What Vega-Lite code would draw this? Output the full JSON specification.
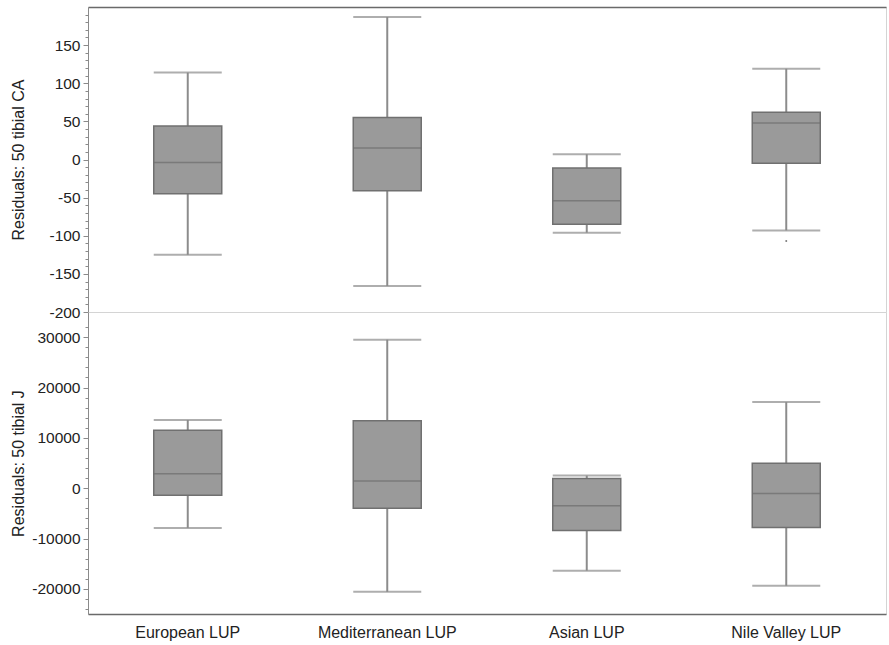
{
  "$schema": "https://vega.github.io/schema/vega-lite/v6.json",
  "background": "white",
  "padding": {"left": 10, "top": 6, "right": 2, "bottom": 2},
  "bounds": "flush",
  "spacing": 0,
  "config": {
    "view": {"stroke": "#d4d4d4", "strokeWidth": 1},
    "font": "Liberation Sans",
    "axis": {"labelFont": "Liberation Sans", "titleFont": "Liberation Sans", "labelFontSize": 15.5, "titleFontSize": 16, "titleFontWeight": "normal", "labelColor": "#222222", "titleColor": "#222222", "domainColor": "#8a8a8a", "tickColor": "#8a8a8a", "grid": false, "labelOverlap": false, "minExtent": 0}
  },
  "datasets": {
    "ca": [
      {"group": "European LUP", "wlo": -125, "q1": -45, "med": -4, "q3": 44, "whi": 114},
      {"group": "Mediterranean LUP", "wlo": -166, "q1": -41, "med": 15, "q3": 55, "whi": 187},
      {"group": "Asian LUP", "wlo": -96, "q1": -85, "med": -54, "q3": -11, "whi": 7},
      {"group": "Nile Valley LUP", "wlo": -93, "q1": -5, "med": 48, "q3": 62, "whi": 119}
    ],
    "ca_out": [
      {"group": "Nile Valley LUP", "value": -107}
    ],
    "j": [
      {"group": "European LUP", "wlo": -7900, "q1": -1400, "med": 2850, "q3": 11500, "whi": 13550},
      {"group": "Mediterranean LUP", "wlo": -20600, "q1": -4000, "med": 1400, "q3": 13400, "whi": 29500},
      {"group": "Asian LUP", "wlo": -16400, "q1": -8400, "med": -3500, "q3": 1900, "whi": 2500},
      {"group": "Nile Valley LUP", "wlo": -19400, "q1": -7800, "med": -1050, "q3": 4950, "whi": 17100}
    ]
  },
  "vconcat": [
    {
      "width": 798,
      "height": 305,
      "data": {"name": "ca"},
      "encoding": {
        "x": {"field": "group", "type": "nominal", "sort": ["European LUP", "Mediterranean LUP", "Asian LUP", "Nile Valley LUP"], "scale": {"paddingInner": 0, "paddingOuter": 0}, "axis": {"orient": "top", "labels": false, "ticks": false, "title": null, "domainColor": "#6a6a6a", "domainWidth": 1.5, "minExtent": 0, "maxExtent": 0}}
      },
      "layer": [
        {
          "mark": {"type": "rule", "color": "#8c8c8c", "strokeWidth": 2},
          "encoding": {
            "y": {"field": "wlo", "type": "quantitative", "title": "Residuals: 50 tibial CA", "scale": {"domain": [-200, 200], "nice": false, "zero": false},
              "axis": {"values": [-200,-190,-180,-170,-160,-150,-140,-130,-120,-110,-100,-90,-80,-70,-60,-50,-40,-30,-20,-10,0,10,20,30,40,50,60,70,80,90,100,110,120,130,140,150,160,170,180,190],
                "labelExpr": "(datum.value % 50 === 0 && datum.value < 200) ? ('' + datum.value) : ''",
                "tickSize": {"condition": {"test": "datum.value % 50 === 0", "value": 5}, "value": 3},
                "labelPadding": 3, "titlePadding": 22}},
            "y2": {"field": "whi"}
          }
        },
        {
          "mark": {"type": "tick", "color": "#8c8c8c", "size": 68, "thickness": 2},
          "encoding": {"y": {"field": "wlo", "type": "quantitative", "title": "Residuals: 50 tibial CA",
              "axis": {"values": [-200,-190,-180,-170,-160,-150,-140,-130,-120,-110,-100,-90,-80,-70,-60,-50,-40,-30,-20,-10,0,10,20,30,40,50,60,70,80,90,100,110,120,130,140,150,160,170,180,190],
                "labelExpr": "(datum.value % 50 === 0 && datum.value < 200) ? ('' + datum.value) : ''",
                "tickSize": {"condition": {"test": "datum.value % 50 === 0", "value": 5}, "value": 3},
                "labelPadding": 3, "titlePadding": 22}}}
        },
        {
          "mark": {"type": "tick", "color": "#8c8c8c", "size": 68, "thickness": 2},
          "encoding": {"y": {"field": "whi", "type": "quantitative", "title": "Residuals: 50 tibial CA",
              "axis": {"values": [-200,-190,-180,-170,-160,-150,-140,-130,-120,-110,-100,-90,-80,-70,-60,-50,-40,-30,-20,-10,0,10,20,30,40,50,60,70,80,90,100,110,120,130,140,150,160,170,180,190],
                "labelExpr": "(datum.value % 50 === 0 && datum.value < 200) ? ('' + datum.value) : ''",
                "tickSize": {"condition": {"test": "datum.value % 50 === 0", "value": 5}, "value": 3},
                "labelPadding": 3, "titlePadding": 22}}}
        },
        {
          "mark": {"type": "bar", "size": 68, "fill": "#9a9a9a", "stroke": "#707070", "strokeWidth": 1.5, "opacity": 1},
          "encoding": {"y": {"field": "q1", "type": "quantitative", "title": "Residuals: 50 tibial CA",
              "axis": {"values": [-200,-190,-180,-170,-160,-150,-140,-130,-120,-110,-100,-90,-80,-70,-60,-50,-40,-30,-20,-10,0,10,20,30,40,50,60,70,80,90,100,110,120,130,140,150,160,170,180,190],
                "labelExpr": "(datum.value % 50 === 0 && datum.value < 200) ? ('' + datum.value) : ''",
                "tickSize": {"condition": {"test": "datum.value % 50 === 0", "value": 5}, "value": 3},
                "labelPadding": 3, "titlePadding": 22}}, "y2": {"field": "q3"}}
        },
        {
          "mark": {"type": "tick", "color": "#6c6c6c", "size": 68, "thickness": 1.5},
          "encoding": {"y": {"field": "med", "type": "quantitative", "title": "Residuals: 50 tibial CA",
              "axis": {"values": [-200,-190,-180,-170,-160,-150,-140,-130,-120,-110,-100,-90,-80,-70,-60,-50,-40,-30,-20,-10,0,10,20,30,40,50,60,70,80,90,100,110,120,130,140,150,160,170,180,190],
                "labelExpr": "(datum.value % 50 === 0 && datum.value < 200) ? ('' + datum.value) : ''",
                "tickSize": {"condition": {"test": "datum.value % 50 === 0", "value": 5}, "value": 3},
                "labelPadding": 3, "titlePadding": 22}}}
        },
        {
          "data": {"name": "ca_out"},
          "mark": {"type": "point", "filled": true, "color": "#7a7a7a", "size": 4, "opacity": 1},
          "encoding": {"y": {"field": "value", "type": "quantitative", "title": "Residuals: 50 tibial CA",
              "axis": {"values": [-200,-190,-180,-170,-160,-150,-140,-130,-120,-110,-100,-90,-80,-70,-60,-50,-40,-30,-20,-10,0,10,20,30,40,50,60,70,80,90,100,110,120,130,140,150,160,170,180,190],
                "labelExpr": "(datum.value % 50 === 0 && datum.value < 200) ? ('' + datum.value) : ''",
                "tickSize": {"condition": {"test": "datum.value % 50 === 0", "value": 5}, "value": 3},
                "labelPadding": 3, "titlePadding": 22}}}
        }
      ]
    },
    {
      "width": 798,
      "height": 302,
      "data": {"name": "j"},
      "encoding": {
        "x": {"field": "group", "type": "nominal", "sort": ["European LUP", "Mediterranean LUP", "Asian LUP", "Nile Valley LUP"], "scale": {"paddingInner": 0, "paddingOuter": 0}, "axis": {"orient": "bottom", "labelAngle": 0, "ticks": false, "title": null, "labelPadding": 10, "labelFontSize": 16, "domainColor": "#6a6a6a", "domainWidth": 1.5}}
      },
      "layer": [
        {
          "mark": {"type": "rule", "color": "#8c8c8c", "strokeWidth": 2},
          "encoding": {
            "y": {"field": "wlo", "type": "quantitative", "title": "Residuals: 50 tibial J", "scale": {"domain": [-25000, 35000], "nice": false, "zero": false},
              "axis": {"values": [-24000,-22000,-20000,-18000,-16000,-14000,-12000,-10000,-8000,-6000,-4000,-2000,0,2000,4000,6000,8000,10000,12000,14000,16000,18000,20000,22000,24000,26000,28000,30000,32000],
                "labelExpr": "(datum.value % 10000 === 0) ? ('' + datum.value) : ''",
                "tickSize": {"condition": {"test": "datum.value % 10000 === 0", "value": 5}, "value": 3},
                "labelPadding": 3, "titlePadding": 5}},
            "y2": {"field": "whi"}
          }
        },
        {
          "mark": {"type": "tick", "color": "#8c8c8c", "size": 68, "thickness": 2},
          "encoding": {"y": {"field": "wlo", "type": "quantitative", "title": "Residuals: 50 tibial J",
              "axis": {"values": [-24000,-22000,-20000,-18000,-16000,-14000,-12000,-10000,-8000,-6000,-4000,-2000,0,2000,4000,6000,8000,10000,12000,14000,16000,18000,20000,22000,24000,26000,28000,30000,32000],
                "labelExpr": "(datum.value % 10000 === 0) ? ('' + datum.value) : ''",
                "tickSize": {"condition": {"test": "datum.value % 10000 === 0", "value": 5}, "value": 3},
                "labelPadding": 3, "titlePadding": 5}}}
        },
        {
          "mark": {"type": "tick", "color": "#8c8c8c", "size": 68, "thickness": 2},
          "encoding": {"y": {"field": "whi", "type": "quantitative", "title": "Residuals: 50 tibial J",
              "axis": {"values": [-24000,-22000,-20000,-18000,-16000,-14000,-12000,-10000,-8000,-6000,-4000,-2000,0,2000,4000,6000,8000,10000,12000,14000,16000,18000,20000,22000,24000,26000,28000,30000,32000],
                "labelExpr": "(datum.value % 10000 === 0) ? ('' + datum.value) : ''",
                "tickSize": {"condition": {"test": "datum.value % 10000 === 0", "value": 5}, "value": 3},
                "labelPadding": 3, "titlePadding": 5}}}
        },
        {
          "mark": {"type": "bar", "size": 68, "fill": "#9a9a9a", "stroke": "#707070", "strokeWidth": 1.5, "opacity": 1},
          "encoding": {"y": {"field": "q1", "type": "quantitative", "title": "Residuals: 50 tibial J",
              "axis": {"values": [-24000,-22000,-20000,-18000,-16000,-14000,-12000,-10000,-8000,-6000,-4000,-2000,0,2000,4000,6000,8000,10000,12000,14000,16000,18000,20000,22000,24000,26000,28000,30000,32000],
                "labelExpr": "(datum.value % 10000 === 0) ? ('' + datum.value) : ''",
                "tickSize": {"condition": {"test": "datum.value % 10000 === 0", "value": 5}, "value": 3},
                "labelPadding": 3, "titlePadding": 5}}, "y2": {"field": "q3"}}
        },
        {
          "mark": {"type": "tick", "color": "#6c6c6c", "size": 68, "thickness": 1.5},
          "encoding": {"y": {"field": "med", "type": "quantitative", "title": "Residuals: 50 tibial J",
              "axis": {"values": [-24000,-22000,-20000,-18000,-16000,-14000,-12000,-10000,-8000,-6000,-4000,-2000,0,2000,4000,6000,8000,10000,12000,14000,16000,18000,20000,22000,24000,26000,28000,30000,32000],
                "labelExpr": "(datum.value % 10000 === 0) ? ('' + datum.value) : ''",
                "tickSize": {"condition": {"test": "datum.value % 10000 === 0", "value": 5}, "value": 3},
                "labelPadding": 3, "titlePadding": 5}}}
        }
      ]
    }
  ]
}
